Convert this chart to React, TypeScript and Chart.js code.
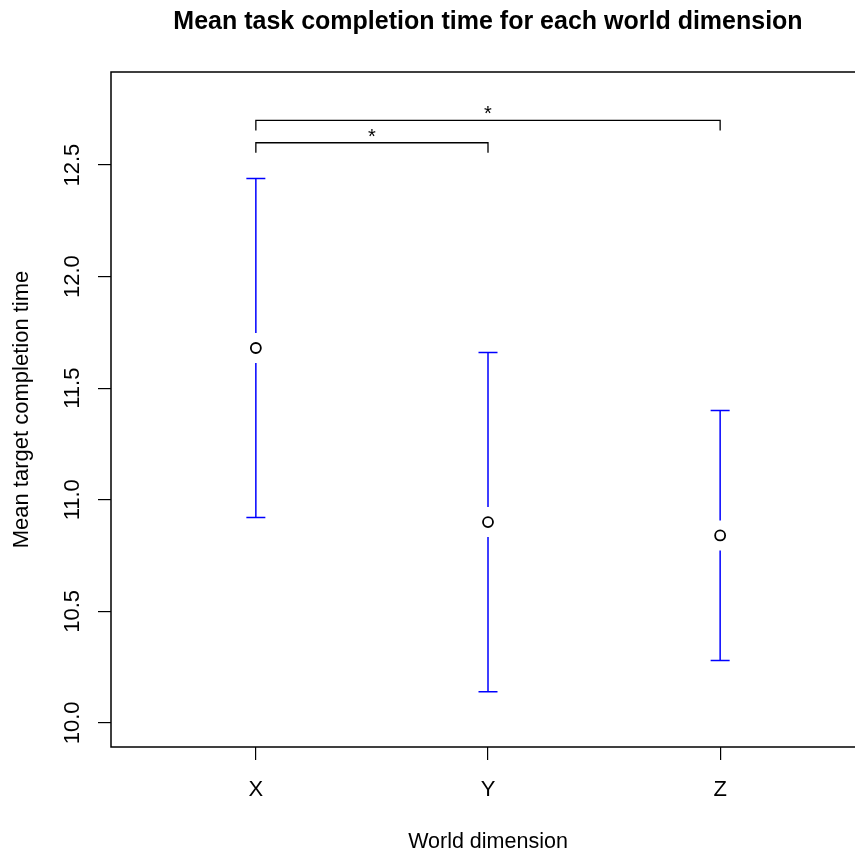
import React, { useEffect, useRef } from "react";
import { Chart, registerables } from "chart.js";

Chart.register(...registerables);

// Conditions and their summary statistics
const categories = ["X", "Y", "Z"];
const means = [11.68, 10.9, 10.84];
const upperCI = [12.44, 11.66, 11.4];
const lowerCI = [10.92, 10.14, 10.28];
const yTicks = [10.0, 10.5, 11.0, 11.5, 12.0, 12.5];

// Significance brackets between conditions
const bracketFrom = [0, 0];
const bracketTo = [1, 2];
const bracketLevel = [12.6, 12.7];
const bracketLabel = ["*", "*"];

const TITLE = "Mean task completion time for each world dimension";
const X_TITLE = "World dimension";
const Y_TITLE = "Mean target completion time";
const FONT = "'Liberation Sans', Arial, Helvetica, sans-serif";

const annotations = {
  id: "rAnnotations",
  beforeDatasetsDraw(chart: any) {
    const { ctx, scales } = chart;
    const xs = scales.x;
    const ys = scales.y;
    ctx.save();

    // error bars with a gap around the mean marker
    ctx.strokeStyle = "#0000ff";
    ctx.lineWidth = 1.5;
    const gap = 15;
    const cap = 9.5;
    categories.forEach((_, i) => {
      const px = xs.getPixelForValue(i + 1);
      const pm = ys.getPixelForValue(means[i]);
      const pu = ys.getPixelForValue(upperCI[i]);
      const pl = ys.getPixelForValue(lowerCI[i]);
      ctx.beginPath();
      ctx.moveTo(px, pu);
      ctx.lineTo(px, pm - gap);
      ctx.moveTo(px, pm + gap);
      ctx.lineTo(px, pl);
      ctx.moveTo(px - cap, pu);
      ctx.lineTo(px + cap, pu);
      ctx.moveTo(px - cap, pl);
      ctx.lineTo(px + cap, pl);
      ctx.stroke();
    });

    // significance brackets
    ctx.strokeStyle = "#000";
    ctx.fillStyle = "#000";
    ctx.lineWidth = 1.3;
    ctx.font = `20px ${FONT}`;
    ctx.textAlign = "center";
    ctx.textBaseline = "alphabetic";
    bracketLevel.forEach((lvl, k) => {
      const x1 = xs.getPixelForValue(bracketFrom[k] + 1);
      const x2 = xs.getPixelForValue(bracketTo[k] + 1);
      const py = ys.getPixelForValue(lvl);
      const drop = ys.getPixelForValue(lvl - 0.045) - py;
      ctx.beginPath();
      ctx.moveTo(x1, py + drop);
      ctx.lineTo(x1, py);
      ctx.lineTo(x2, py);
      ctx.lineTo(x2, py + drop);
      ctx.stroke();
      ctx.fillText(bracketLabel[k], (x1 + x2) / 2, py);
    });
    ctx.restore();
  },
  afterDraw(chart: any) {
    const { ctx, chartArea, scales } = chart;
    const xs = scales.x;
    const ys = scales.y;
    const cx = (chartArea.left + chartArea.right) / 2;
    const cy = (chartArea.top + chartArea.bottom) / 2;
    ctx.save();

    // plot box
    ctx.strokeStyle = "#000";
    ctx.lineWidth = 1.5;
    ctx.strokeRect(chartArea.left, chartArea.top, chartArea.right - chartArea.left, chartArea.bottom - chartArea.top);

    ctx.fillStyle = "#000";

    // title
    ctx.font = `bold 25px ${FONT}`;
    ctx.textAlign = "center";
    ctx.textBaseline = "alphabetic";
    ctx.fillText(TITLE, cx, 29);

    // x tick labels
    ctx.font = `22px ${FONT}`;
    xs.ticks.forEach((t: any) => {
      ctx.fillText(categories[t.value - 1], xs.getPixelForValue(t.value), 796);
    });

    // x axis title
    ctx.font = `21.5px ${FONT}`;
    ctx.fillText(X_TITLE, cx, 848);

    // y tick labels, rotated
    ctx.font = `22px ${FONT}`;
    ys.ticks.forEach((t: any) => {
      ctx.save();
      ctx.translate(79, ys.getPixelForValue(t.value));
      ctx.rotate(-Math.PI / 2);
      ctx.fillText(t.value.toFixed(1), 0, 0);
      ctx.restore();
    });

    // y axis title
    ctx.save();
    ctx.translate(28, cy);
    ctx.rotate(-Math.PI / 2);
    ctx.fillText(Y_TITLE, 0, 0);
    ctx.restore();

    ctx.restore();
  },
};

export default function App() {
  const canvasRef = useRef<HTMLCanvasElement | null>(null);

  useEffect(() => {
    const canvas = canvasRef.current;
    if (!canvas) return;
    const chart = new Chart(canvas, {
      type: "scatter",
      data: {
        datasets: [
          {
            data: means.map((m, i) => ({ x: i + 1, y: m })),
            pointStyle: "circle",
            pointRadius: 5,
            pointBorderWidth: 1.8,
            pointBorderColor: "#000",
            pointBackgroundColor: "#fff",
            showLine: false,
          },
        ],
      },
      options: {
        responsive: false,
        devicePixelRatio: 1,
        animation: false,
        layout: { padding: { left: 0, top: 72, right: 15, bottom: 0 } },
        plugins: {
          legend: { display: false },
          title: { display: false },
          tooltip: { enabled: false },
        },
        scales: {
          x: {
            type: "linear",
            min: 0.376,
            max: 3.624,
            afterBuildTicks: (s: any) => {
              s.ticks = categories.map((_, i) => ({ value: i + 1 }));
            },
            afterFit: (s: any) => {
              s.height = 107;
            },
            grid: { drawOnChartArea: false, drawTicks: true, tickLength: 13, color: "#000", lineWidth: 1.2 },
            border: { display: false },
            ticks: { display: false },
          },
          y: {
            type: "linear",
            min: 9.892,
            max: 12.917,
            afterBuildTicks: (s: any) => {
              s.ticks = yTicks.map((v) => ({ value: v }));
            },
            afterFit: (s: any) => {
              s.width = 111;
            },
            grid: { drawOnChartArea: false, drawTicks: true, tickLength: 13, color: "#000", lineWidth: 1.2 },
            border: { display: false },
            ticks: { display: false },
          },
        },
      },
      plugins: [annotations],
    });
    return () => chart.destroy();
  }, []);

  return (
    <div
      style={{
        position: "fixed",
        left: 0,
        top: 0,
        width: 855,
        height: 854,
        overflow: "hidden",
        background: "#fff",
      }}
    >
      <canvas ref={canvasRef} width={880} height={854} style={{ width: 880, height: 854, display: "block" }} />
    </div>
  );
}
